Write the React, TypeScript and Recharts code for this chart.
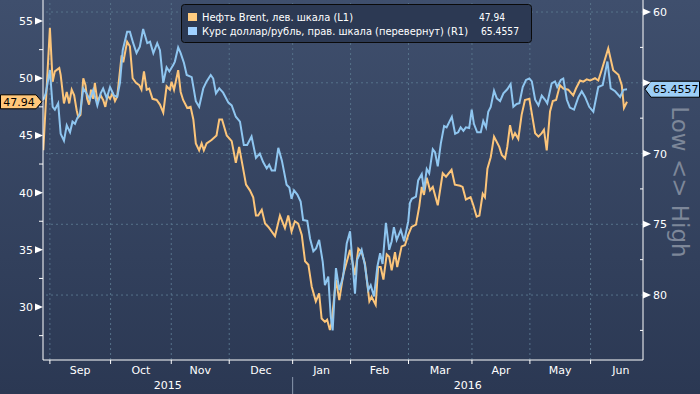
import React from 'react';
import { LineChart, Line, XAxis, YAxis, ReferenceLine, ReferenceDot } from 'recharts';

// x = trading days counted from 1 Sep 2015
const brentDays = [
  -2.4, 0, 1, 1.8, 3.4, 3.9, 5.1, 6.1, 7, 7.9, 8.8, 9.7, 10.3, 11.1, 12.1, 12.9, 13.5, 14.2, 14.9, 15.7,
  16.3, 17.2, 18.4, 19.3, 20.1, 20.9, 21.8, 22.7, 23.6, 24.4, 26, 26.6, 28, 29, 30, 31.2, 32.4, 33.2, 34.1, 35.1,
  36, 37.2, 38.7, 39.9, 41.1, 42.3, 43.5, 44.1, 45, 46.5, 47.4, 48.3, 49.8, 51, 52, 52.9, 54.1, 55, 55.8, 56.8,
  58.6, 60.4, 61.4, 62.4, 64.1, 65.9, 67.4, 68.6, 69.9, 71.1, 72.5, 73.7, 74.7, 75.5, 76.8, 78, 79.2, 81.6, 83.4, 85.2,
  86.4, 87.6, 88.8, 90, 91.3, 92.5, 93.7, 94.9, 96.4, 97.6, 98.5, 99.7, 100.5, 101.5, 102.1, 103.7, 104.9, 106.3, 108.8, 110.6,
  111.8, 113, 114.2, 115.8, 116.6, 118.1, 119, 119.9, 120.9, 122.1, 123, 123.9, 125.1, 125.9, 127.5, 128.7, 129.9, 131.1, 132.7, 133.9,
  134.8, 135.6, 136.6, 137.8, 138.8, 140.6, 142.4, 143.6, 145.6, 146.8, 148.7, 149.6, 150.8, 152.5, 153.5, 154.7, 155.7, 156.9, 157.7, 158.6,
  159.8, 161, 162.9, 163.8, 165, 165.8, 166.8, 167.8, 168.6, 169.8, 171, 172.2, 173.8, 174.7, 175.9, 177.1, 178.3, 179.1, 180.1, 181.3,
  182.3, 183.5, 184.9, 186.1, 187.9, 189.7, 190.7, 192.2, 193.4, 194.6, 195.8, 197.6, 198.8, 200, 202.4, 204.2, 206.1, 207.3, 208.1, 209.2
];
const brentValues = [
  43.7, 54.4, 49.7, 50.6, 50.9, 50.3, 47.8, 48.8, 47.8, 49.0, 48.5, 47.2, 46.6, 46.8, 50.0, 49.4, 48.2, 47.7, 49.0, 48.2,
  49.6, 48.0, 48.5, 48.1, 47.5, 48.5, 48.2, 48.7, 48.0, 48.4, 52.0, 51.4, 53.2, 52.8, 50.0, 49.6, 49.4, 49.0, 50.6, 49.0,
  49.1, 48.2, 48.1, 47.7, 47.0, 49.3, 49.0, 49.7, 49.0, 50.7, 48.8, 48.1, 47.4, 47.5, 46.4, 44.3, 43.7, 44.3, 43.7, 44.3,
  44.6, 45.0, 46.4, 46.4, 45.0, 44.5, 42.6, 44.0, 42.3, 40.7, 40.2, 39.6, 38.0, 38.0, 38.5, 37.3, 37.0, 36.2, 38.0, 36.9,
  38.0, 36.6, 37.5, 37.3, 36.3, 34.0, 33.7, 31.8, 30.5, 31.2, 29.0, 28.7, 28.9, 28.0, 28.6, 32.4, 30.6, 32.8, 35.0, 32.8,
  35.1, 34.8, 33.8, 30.5, 30.9, 30.2, 33.5, 33.5, 32.4, 34.6, 34.4, 33.2, 34.8, 33.5, 35.3, 35.4, 36.3, 37.0, 37.2, 38.8,
  40.5, 39.8, 41.3, 40.2, 40.5, 38.9, 41.7, 41.4, 42.0, 40.7, 40.6, 40.5, 39.4, 39.6, 38.9, 37.9, 38.0, 39.9, 39.6, 42.1,
  43.1, 44.9, 44.0, 43.3, 43.0, 44.0, 45.9, 44.8, 45.2, 44.7, 46.8, 48.1, 48.2, 46.9, 45.2, 44.9, 45.2, 45.5, 43.7, 47.1,
  48.0, 48.1, 49.4, 49.1, 49.0, 48.5, 49.1, 49.8, 49.7, 49.9, 49.8, 50.0, 49.8, 50.7, 52.6, 50.7, 50.3, 49.4, 47.4, 47.94
];

const rubDays = [
  -2.4, -1.5, 0, 1, 1.8, 3, 3.9, 5.1, 6.1, 7.3, 8.2, 9.1, 9.9, 10.9, 12.1, 13.3, 14.5, 15.7, 17.2, 18.4,
  19.3, 20.6, 21.8, 23.2, 24.4, 25.4, 26.4, 28, 29, 30.2, 31.4, 32.6, 33.8, 35.3, 36.3, 37.5, 38.9, 39.9, 41.1, 42.3,
  43.3, 44.7, 45.3, 46.5, 47.4, 48.6, 49.6, 51.4, 52.9, 54.1, 55.6, 56.8, 58.3, 59.2, 60.2, 61.4, 62.8, 64.7, 65.9, 67.4,
  68.9, 70.3, 71.5, 73.1, 74.7, 76.1, 77.3, 78.6, 79.5, 80.4, 81.6, 82.8, 84.1, 85.8, 86.8, 87.6, 88.5, 89.7, 90.9, 91.8,
  93.3, 94.3, 95.5, 96.5, 97.6, 98.9, 99.7, 100.9, 101.8, 102.5, 103.7, 104.9, 106.3, 107.6, 108.8, 110.6, 111.4, 113, 114.2, 115.4,
  116.3, 117.5, 118.7, 119.7, 120.6, 121.8, 123, 123.9, 124.7, 125.7, 127.2, 128.4, 129.9, 130.5, 131.2, 132.7, 133.5, 134.8, 135.6, 136.6,
  137.5, 138.8, 139.6, 140.6, 141.7, 142.9, 143.8, 145.7, 146.9, 148, 148.9, 149.9, 150.8, 152, 152.9, 153.7, 154.9, 156.2, 157.1, 158.1,
  158.9, 159.8, 161, 162, 163.2, 164.4, 165.8, 167, 168, 169.2, 170.2, 171.4, 172.6, 173.8, 174.7, 175.9, 177.1, 178.3, 179.5, 180.3,
  181.9, 183.1, 183.9, 185.2, 186.1, 187.4, 188.5, 190, 191.6, 192.8, 194, 195.5, 197, 198.8, 200.4, 202.1, 203.3, 204.9, 206.7, 207.9,
  209.2
];
const rubValues = [
  66.2, 65.75, 64.1, 66.7, 66.9, 66.45, 68.6, 69.1, 68.0, 68.5, 67.75, 67.9, 67.5, 67.2, 65.4, 65.75, 66.2, 65.5, 66.6, 65.75,
  65.4, 66.1, 65.3, 65.9, 66.0, 65.0, 62.7, 61.4, 61.4, 62.2, 62.9, 62.45, 61.2, 62.2, 62.1, 62.9, 62.2, 62.7, 65.0, 63.9,
  64.2, 63.75, 63.5, 62.5, 62.9, 63.6, 64.45, 64.6, 66.3, 66.7, 65.4, 64.9, 64.45, 64.7, 65.75, 65.4, 65.7, 66.4, 66.6, 67.4,
  67.75, 69.4, 69.4, 68.8, 70.3, 70.0, 70.6, 71.05, 70.8, 71.2, 71.2, 69.6, 70.5, 72.2, 72.4, 73.2, 72.6, 72.9, 73.4, 74.7,
  74.75, 76.0, 76.9, 76.7, 76.1, 77.65, 79.3, 78.7, 81.5, 82.5, 78.1, 79.65, 78.7, 76.35, 75.5, 79.9, 77.5, 76.8, 77.9, 79.65,
  79.3, 80.1, 78.0, 77.05, 77.8, 74.9, 76.8, 76.2, 75.2, 76.1, 75.4, 76.2, 74.8, 73.5, 73.2, 73.05, 71.9, 71.45, 72.6, 71.1,
  71.4, 69.7, 69.9, 70.9, 69.3, 68.06, 68.15, 67.4, 68.6, 68.5, 68.15, 68.4, 68.15, 68.2, 66.9, 67.9, 68.5, 68.5, 67.7, 68.15,
  67.05, 66.7, 65.56, 66.1, 66.3, 65.75, 65.46, 65.1, 66.7, 66.5, 66.45, 65.3, 64.8, 64.7, 64.9, 66.2, 66.6, 65.9, 66.2, 66.45,
  65.04, 64.9, 65.3, 64.8, 64.7, 66.2, 66.75, 66.9, 66.0, 65.6, 66.0, 66.7, 67.05, 65.3, 65.16, 63.5, 65.4, 65.6, 66.0, 65.5,
  65.4557
];

const monthStarts = [0, 22, 44, 65, 88, 109, 130, 153, 174, 196];
const monthMids = [11, 33, 54.5, 76.5, 98.5, 119.5, 141.5, 163.5, 185, 207];
const monthLabels = ['Sep', 'Oct', 'Nov', 'Dec', 'Jan', 'Feb', 'Mar', 'Apr', 'May', 'Jun'];
const yearMids = [42.75, 151.5];
const yearLabels = ['2015', '2016'];
const yearBreak = 88;

const leftTicks = [27.5, 30, 32.5, 35, 37.5, 40, 42.5, 45, 47.5, 50, 52.5, 55];
const rightTicks = [60, 62.5, 65, 67.5, 70, 72.5, 75, 77.5, 80, 82.5];
const rightGrid = [60, 65, 70, 75, 80];

const brentLast = 47.94;
const rubLast = 65.4557;
const lastDay = 209.2;

const brentData = brentDays.map((d, i) => ({ day: d, value: brentValues[i] }));
const rubData = rubDays.map((d, i) => ({ day: d, value: rubValues[i] }));
const xTicks = [...monthStarts, ...monthMids, ...yearMids].sort((a, b) => a - b);

const FONT = 'DejaVu Sans';
const ORANGE = '#fcc57a';
const BLUE = '#8fc6f0';
const GRID = '#56728a';

const XTick = (props: any) => {
  const { x, y, payload } = props;
  const v = payload.value;
  const mi = monthMids.indexOf(v);
  const yi = yearMids.indexOf(v);
  if (mi >= 0) {
    return (
      <text x={x} y={y + 14} textAnchor="middle" fill="#fff" fontSize={11} fontFamily={FONT}>
        {monthLabels[mi]}
      </text>
    );
  }
  if (yi >= 0) {
    return (
      <text x={x} y={y + 29} textAnchor="middle" fill="#fff" fontSize={11} fontFamily={FONT}>
        {yearLabels[yi]}
      </text>
    );
  }
  return (
    <g>
      <line x1={x} y1={y} x2={x} y2={y + 4} stroke="#fff" />
      {v === yearBreak && <line x1={x} y1={y + 17} x2={x} y2={y + 34} stroke="#8a98ad" />}
    </g>
  );
};

const LeftTick = (props: any) => {
  const { x, y, payload } = props;
  const v = payload.value;
  if (v % 5 !== 0) {
    return <line x1={x - 4} y1={y} x2={x} y2={y} stroke="#fff" />;
  }
  return (
    <g>
      <polygon points={`${x - 8},${y - 3.5} ${x},${y} ${x - 8},${y + 3.5}`} fill="#fff" />
      <text x={x - 10} y={y + 4} textAnchor="end" fill="#fff" fontSize={11} fontFamily={FONT}>
        {v}
      </text>
    </g>
  );
};

// the last-value flag covers the label of the tick right next to it
const RightTick = (props: any) => {
  const { x, y, payload } = props;
  const v = payload.value;
  if (v % 5 !== 0) {
    return <line x1={x - 3} y1={y} x2={x} y2={y} stroke="#fff" />;
  }
  const hidden = Math.abs(v - rubLast) < 1;
  return (
    <g>
      <polygon points={`${x},${y - 3.5} ${x + 8},${y} ${x},${y + 3.5}`} fill="#fff" />
      {!hidden && (
        <text x={x + 10} y={y + 4} textAnchor="start" fill="#fff" fontSize={11} fontFamily={FONT}>
          {v}
        </text>
      )}
    </g>
  );
};

const LeftFlag = (props: any) => {
  const { cy } = props;
  return (
    <g>
      <path d={`M0.5,${cy - 7} H36 L42,${cy} L36,${cy + 7} H0.5 Z`} fill="#ffc77a" stroke="#000" />
      <text x={19} y={cy + 4} textAnchor="middle" fill="#000" fontSize={11} fontFamily={FONT}>
        {brentLast.toFixed(2)}
      </text>
    </g>
  );
};

const RightFlag = (props: any) => {
  const { cy } = props;
  return (
    <g>
      <path d={`M645,${cy} L651,${cy - 8} H699.5 V${cy + 8} H651 Z`} fill="#9dcff7" stroke="#000" />
      <text x={653} y={cy + 4} textAnchor="start" fill="#000" fontSize={11} fontFamily={FONT}>
        {rubLast.toFixed(4)}
      </text>
    </g>
  );
};

export default function App() {
  return (
    <div
      style={{
        position: 'absolute',
        left: 0,
        top: 0,
        width: 700,
        height: 394,
        background: 'linear-gradient(#3f4f6d, #2b3853)',
        overflow: 'hidden'
      }}
    >
      <LineChart width={700} height={394} margin={{ top: 0, right: 0, bottom: 0, left: 0 }}>
        <XAxis
          dataKey="day"
          type="number"
          domain={[-2.5, 215]}
          allowDataOverflow
          ticks={xTicks}
          interval={0}
          tick={XTick}
          tickLine={false}
          tickSize={0}
          tickMargin={0}
          axisLine={{ stroke: '#fff' }}
          height={34}
        />
        <YAxis
          yAxisId="left"
          orientation="left"
          type="number"
          domain={[25.37, 56.84]}
          allowDataOverflow
          ticks={leftTicks}
          interval={0}
          tick={LeftTick}
          tickLine={false}
          tickSize={0}
          tickMargin={0}
          axisLine={{ stroke: '#fff' }}
          width={43}
        />
        <YAxis
          yAxisId="right"
          orientation="right"
          type="number"
          reversed
          domain={[59.15, 84.59]}
          allowDataOverflow
          ticks={rightTicks}
          interval={0}
          tick={RightTick}
          tickLine={false}
          tickSize={0}
          tickMargin={0}
          axisLine={{ stroke: '#fff' }}
          width={57}
        />
        {rightGrid.map((v) => (
          <ReferenceLine key={`h${v}`} yAxisId="right" y={v} stroke={GRID} strokeDasharray="2 3" />
        ))}
        {monthStarts.map((d) => (
          <ReferenceLine key={`v${d}`} yAxisId="left" x={d} stroke={GRID} strokeDasharray="2 3" />
        ))}
        <Line
          data={brentData}
          dataKey="value"
          yAxisId="left"
          stroke={ORANGE}
          strokeWidth={2}
          dot={false}
          isAnimationActive={false}
        />
        <Line
          data={rubData}
          dataKey="value"
          yAxisId="right"
          stroke={BLUE}
          strokeWidth={2}
          dot={false}
          isAnimationActive={false}
        />
        <ReferenceDot yAxisId="left" x={lastDay} y={brentLast} r={0} shape={LeftFlag} />
        <ReferenceDot yAxisId="right" x={lastDay} y={rubLast} r={0} shape={RightFlag} />
      </LineChart>
      <svg
        width={700}
        height={394}
        style={{ position: 'absolute', left: 0, top: 0, pointerEvents: 'none' }}
      >
        <rect x={181.5} y={4.5} width={350} height={38} rx={3} fill="#2c3953" stroke="#0a0a0a" />
        <rect x={188} y={13} width={9} height={8} fill="#ffcc80" />
        <rect x={188} y={27} width={9} height={8} fill="#9fd0ff" />
        <text x={202} y={21} fill="#fff" fontSize={10} fontFamily={FONT} textLength={151} lengthAdjust="spacingAndGlyphs">
          Нефть Brent, лев. шкала (L1)
        </text>
        <text x={202} y={35} fill="#fff" fontSize={10} fontFamily={FONT} textLength={266} lengthAdjust="spacingAndGlyphs">
          Курс доллар/рубль, прав. шкала (перевернут) (R1)
        </text>
        <text x={479} y={21} fill="#fff" fontSize={10} fontFamily={FONT} textLength={26} lengthAdjust="spacingAndGlyphs">
          {brentLast.toFixed(2)}
        </text>
        <text x={481} y={35} fill="#fff" fontSize={10} fontFamily={FONT} textLength={38} lengthAdjust="spacingAndGlyphs">
          {rubLast.toFixed(4)}
        </text>
        <text
          x={0}
          y={0}
          transform="translate(672,182) rotate(90)"
          textAnchor="middle"
          fill="#7d8799"
          fontSize={23}
          fontFamily={FONT}
        >
          {'Low <> High'}
        </text>
      </svg>
    </div>
  );
}
